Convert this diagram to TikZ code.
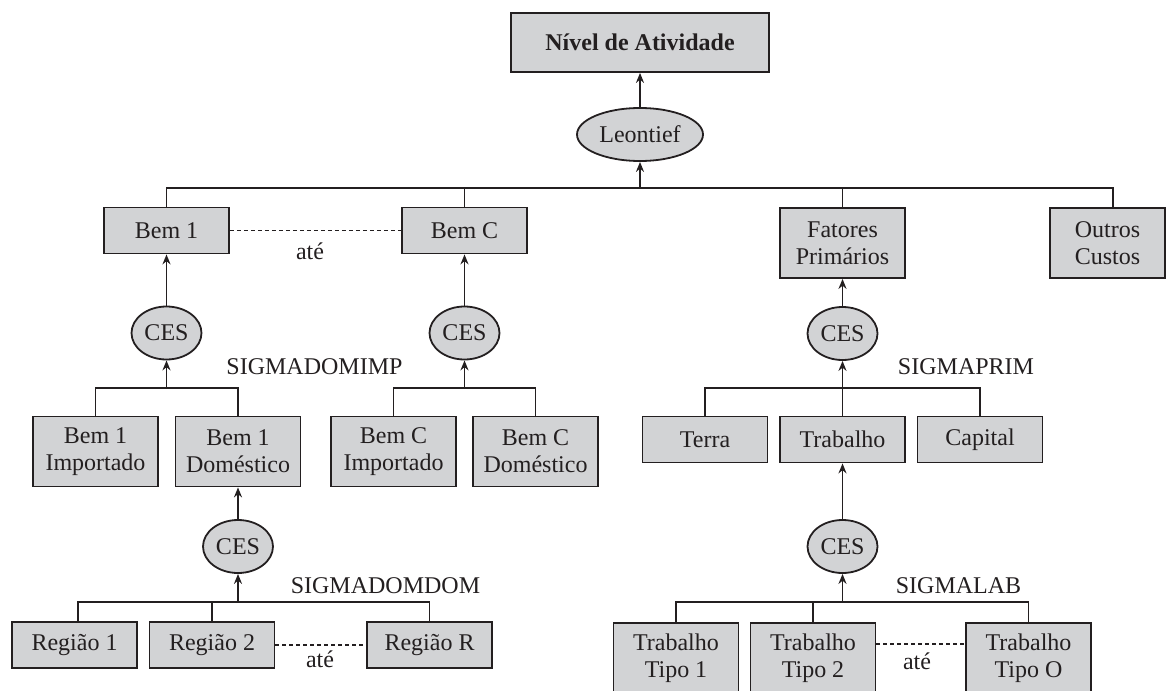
\documentclass[tikz,border=0pt]{standalone}
\usepackage{fontspec}
\setmainfont{Liberation Serif}
\usetikzlibrary{shapes.geometric,arrows.meta}
\definecolor{boxfill}{RGB}{210,211,213}
\definecolor{ink}{RGB}{35,31,32}
\begin{document}
\begin{tikzpicture}[x=0.5pt,y=-0.5pt,
  every node/.style={font=\fontsize{12}{13.5}\selectfont, text=ink},
  box/.style={draw=ink, fill=boxfill, line width=0.9pt, minimum width=62.5pt, minimum height=23pt, inner sep=0pt, align=center},
  tallbox/.style={box, minimum height=35pt},
  ces/.style={ellipse, draw=ink, fill=boxfill, line width=0.9pt, minimum width=35pt, minimum height=26.5pt, inner sep=0pt},
  conn/.style={draw=ink, line width=0.9pt},
  arr/.style={conn, -{Stealth[length=5pt,width=4pt]}},
  dots/.style={draw=ink, line width=0.6pt, dash pattern=on 2pt off 1.5pt},
  lbl/.style={inner sep=0pt}
]
\useasboundingbox (0,0) rectangle (1166,690);

% top
\node[box, minimum width=129pt, minimum height=29.5pt, font=\fontsize{12}{13.5}\selectfont\bfseries] (top) at (640,42.5) {Nível de Atividade};
\node[ces, minimum width=63pt] (leon) at (640,134.5) {Leontief};
\coordinate (tbc) at (640,188);
\coordinate (tbR) at (1113,188);

% level 1
\node[box] (bem1) at (166.5,230.5) {Bem 1};
\node[box] (bemC) at (464.5,230.5) {Bem C};
\node[tallbox] (fat) at (842.5,243) {Fatores\\Primários};
\node[tallbox, minimum width=57.5pt] (out) at (1107.5,243) {Outros\\Custos};

\draw[conn] (bem1.north) |- (tbR) -- (tbR |- out.north);
\draw[conn] (bemC.north) -- (bemC.north |- tbc);
\draw[conn] (fat.north) -- (fat.north |- tbc);
\draw[arr] (tbc) -- (leon.south);
\draw[arr] (leon.north) -- (top.south);

\draw[dots] (bem1.east) -- (bemC.west);
\node[lbl] (ate1) at (310,251) {até};

% CES level 1
\node[ces] (cesA) at (166.5,333) {CES};
\node[ces] (cesB) at (464.5,333) {CES};
\node[ces] (cesF) at (842.5,333.5) {CES};
\draw[arr] (cesA.north) -- (bem1.south);
\draw[arr] (cesB.north) -- (bemC.south);
\draw[arr] (cesF.north) -- (fat.south);
\node[lbl] (sdi) at (314.5,367) {SIGMADOMIMP};
\node[lbl] (sp) at (966,367) {SIGMAPRIM};

% level 2
\node[tallbox] (b1i) at (95.5,451.5) {Bem 1\\Importado};
\node[tallbox] (b1d) at (238,451.5) {Bem 1\\Doméstico};
\node[tallbox] (bci) at (393.5,451.5) {Bem C\\Importado};
\node[tallbox] (bcd) at (535.5,451.5) {Bem C\\Doméstico};
\node[box] (terra) at (705,439.5) {Terra};
\node[box] (trab) at (842.5,439.5) {Trabalho};
\node[box] (cap) at (980,439.5) {Capital};

\coordinate (barA) at (166.5,388);
\coordinate (barB) at (464.5,388);
\coordinate (barF) at (842.5,388);
\draw[conn] (b1i.north) |- (b1d.north |- barA) -- (b1d.north);
\draw[arr] (barA) -- (cesA.south);
\draw[conn] (bci.north) |- (bcd.north |- barB) -- (bcd.north);
\draw[arr] (barB) -- (cesB.south);
\draw[conn] (terra.north) |- (cap.north |- barF) -- (cap.north);
\draw[conn] (trab.north) -- (barF);
\draw[arr] (barF) -- (cesF.south);

% CES level 2
\node[ces] (cesD) at (238,546.5) {CES};
\node[ces] (cesL) at (842.5,546.5) {CES};
\draw[arr] (cesD.north) -- (b1d.south);
\draw[arr] (cesL.north) -- (trab.south);
\node[lbl] (sdd) at (385.5,586) {SIGMADOMDOM};
\node[lbl] (sl) at (958.5,586) {SIGMALAB};

% level 3
\node[box] (r1) at (74.5,645) {Região 1};
\node[box] (r2) at (212,645) {Região 2};
\node[box] (rR) at (429.5,645) {Região R};
\node[tallbox] (t1) at (676,658) {Trabalho\\Tipo 1};
\node[tallbox] (t2) at (813,658) {Trabalho\\Tipo 2};
\node[tallbox] (tO) at (1028.5,658) {Trabalho\\Tipo O};

\coordinate (barD) at (238,602);
\coordinate (rv1) at (78,602);
\coordinate (barL) at (842.5,602);
\draw[conn] (rv1 |- r1.north) -- (rv1) -| (rR.north);
\draw[conn] (r2.north) -- (r2.north |- barD);
\draw[arr] (barD) -- (cesD.south);
\draw[conn] (t1.north) |- (tO.north |- barL) -- (tO.north);
\draw[conn] (t2.north) -- (t2.north |- barL);
\draw[arr] (barL) -- (cesL.south);

\draw[dots] (r2.east) -- (rR.west);
\node[lbl] (ate2) at (320,659) {até};
\coordinate (dl) at (0,644);
\draw[dots] (t2.east |- dl) -- (tO.west |- dl);
\node[lbl] (ate3) at (917,661) {até};
\end{tikzpicture}
\end{document}
